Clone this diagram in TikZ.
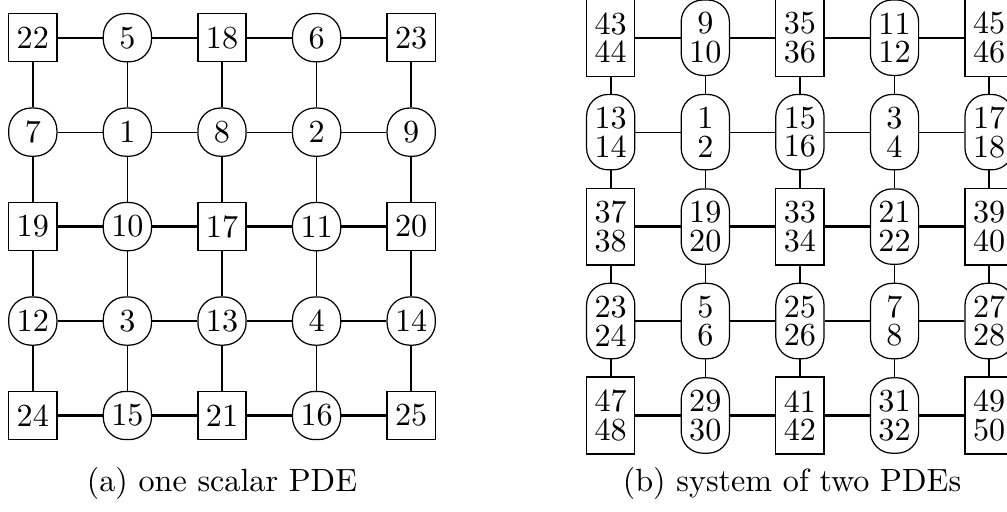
\documentclass[tikz,border=0pt]{standalone}
\begin{document}
\begin{tikzpicture}[x=0.3236pt,y=-0.3236pt,
  every node/.style={inner sep=0pt,font=\fontsize{10.4}{12.5}\selectfont},
  sq/.style={draw,line width=0.4pt,minimum width=15.6pt,minimum height=15.6pt},
  rd/.style={draw,line width=0.4pt,rounded corners=7.2pt,minimum width=15.6pt,minimum height=15.6pt},
  sqb/.style={sq,minimum height=24.9pt,align=center},
  rdb/.style={rd,rounded corners=7pt,minimum height=24.4pt,align=center},
  heavy/.style={line width=0.75pt},
  light/.style={line width=0.4pt}]
\useasboundingbox (0,0) rectangle (1007,512);
\clip (0,0) rectangle (1007,512);

% (a) one unknown per grid point
\foreach \lab [count=\k from 0] in
  {22,5,18,6,23, 7,1,8,2,9, 19,10,17,11,20, 12,3,13,4,14, 24,15,21,16,25}{
  \pgfmathtruncatemacro\r{\k/5}
  \pgfmathtruncatemacro\c{\k-5*\r}
  \pgfmathtruncatemacro\isq{(1-mod(\r,2))*(1-mod(\c,2))}
  \ifnum\isq=1
    \node[sq] (a-\r-\c) at ({32.8+94.6*\c},{37.7+94.45*\r}) {\lab};
  \else
    \node[rd] (a-\r-\c) at ({32.8+94.6*\c},{37.7+94.45*\r}) {\lab};
  \fi
}

% (b) two unknowns per grid point
\foreach \ua/\ub [count=\k from 0] in
  {43/44,9/10,35/36,11/12,45/46, 13/14,1/2,15/16,3/4,17/18,
   37/38,19/20,33/34,21/22,39/40, 23/24,5/6,25/26,7/8,27/28,
   47/48,29/30,41/42,31/32,49/50}{
  \pgfmathtruncatemacro\r{\k/5}
  \pgfmathtruncatemacro\c{\k-5*\r}
  \pgfmathtruncatemacro\isq{(1-mod(\r,2))*(1-mod(\c,2))}
  \ifnum\isq=1
    \node[sqb] (b-\r-\c) at ({610.7+94.6*\c},{37.7+94.45*\r}) {\ua\\[-3.2pt]\ub};
  \else
    \node[rdb] (b-\r-\c) at ({610.7+94.6*\c},{37.7+94.45*\r}) {\ua\\[-3.2pt]\ub};
  \fi
}

% couplings: heavy where a boxed node is involved
\foreach \g in {a,b}{
  \foreach \r in {0,2,4}{
    \foreach \c [evaluate=\c as \n using int(\c+1)] in {0,...,3}
      \draw[heavy] (\g-\r-\c) -- (\g-\r-\n);
  }
  \foreach \r in {1,3}{
    \foreach \c [evaluate=\c as \n using int(\c+1)] in {0,...,3}
      \draw[light] (\g-\r-\c) -- (\g-\r-\n);
  }
  \foreach \c in {0,2,4}{
    \foreach \r [evaluate=\r as \n using int(\r+1)] in {0,...,3}
      \draw[heavy] (\g-\r-\c) -- (\g-\n-\c);
  }
  \foreach \c in {1,3}{
    \foreach \r [evaluate=\r as \n using int(\r+1)] in {0,...,3}
      \draw[light] (\g-\r-\c) -- (\g-\n-\c);
  }
}

\node[anchor=base] (capa) at (222,491) {(a) one scalar PDE};
\node[anchor=base] (capb) at (792,491) {(b) system of two PDEs};
\end{tikzpicture}
\end{document}
